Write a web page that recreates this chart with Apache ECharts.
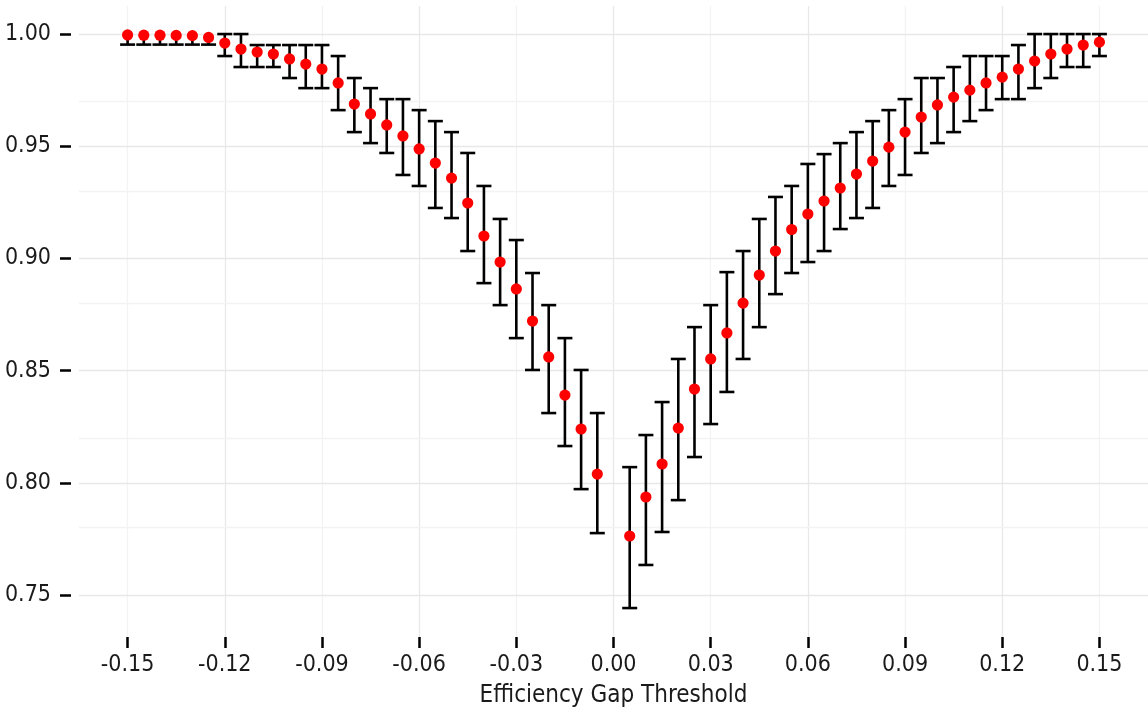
<!DOCTYPE html>
<html>
<head>
<meta charset="utf-8">
<script src="https://cdn.jsdelivr.net/npm/echarts@6/dist/echarts.min.js"></script>
<style>
html,body{margin:0;padding:0;background:#fff;}
#chart{width:1148px;height:715px;}
</style>
</head>
<body>
<div id="chart"></div>
<script>
const thresholds = [
  -0.150,-0.145,-0.140,-0.135,-0.130,-0.125,-0.120,-0.115,-0.110,-0.105,
  -0.100,-0.095,-0.090,-0.085,-0.080,-0.075,-0.070,-0.065,-0.060,-0.055,
  -0.050,-0.045,-0.040,-0.035,-0.030,-0.025,-0.020,-0.015,-0.010,-0.005,
   0.005, 0.010, 0.015, 0.020, 0.025, 0.030, 0.035, 0.040, 0.045, 0.050,
   0.055, 0.060, 0.065, 0.070, 0.075, 0.080, 0.085, 0.090, 0.095, 0.100,
   0.105, 0.110, 0.115, 0.120, 0.125, 0.130, 0.135, 0.140, 0.145, 0.150
];
const means = [
  0.9996,0.9995,0.9995,0.9994,0.9993,0.9985,0.9960,0.9933,0.9920,0.9911,
  0.9889,0.9866,0.9844,0.9782,0.9688,0.9644,0.9595,0.9546,0.9488,0.9425,
  0.9358,0.9247,0.9100,0.8984,0.8864,0.8721,0.8561,0.8391,0.8240,0.8039,
  0.7763,0.7937,0.8084,0.8244,0.8418,0.8552,0.8668,0.8801,0.8926,0.9033,
  0.9129,0.9198,0.9256,0.9314,0.9376,0.9434,0.9496,0.9563,0.9630,0.9684,
  0.9719,0.9750,0.9782,0.9808,0.9844,0.9880,0.9911,0.9933,0.9951,0.9964
];
const lows = [
  0.9953,0.9953,0.9953,0.9953,0.9953,0.9953,0.9902,0.9853,0.9853,0.9853,
  0.9804,0.9759,0.9759,0.9661,0.9563,0.9514,0.9470,0.9372,0.9323,0.9225,
  0.9180,0.9033,0.8890,0.8792,0.8645,0.8503,0.8311,0.8164,0.7972,0.7776,
  0.7442,0.7634,0.7781,0.7923,0.8115,0.8262,0.8405,0.8552,0.8694,0.8841,
  0.8935,0.8984,0.9033,0.9131,0.9180,0.9225,0.9323,0.9372,0.9470,0.9514,
  0.9563,0.9612,0.9661,0.9710,0.9710,0.9759,0.9804,0.9853,0.9853,0.9902
];
const highs = [
  0.9996,0.9995,0.9995,0.9994,0.9993,0.9985,1.0000,1.0000,0.9951,0.9951,
  0.9951,0.9951,0.9951,0.9902,0.9804,0.9759,0.9710,0.9710,0.9661,0.9612,
  0.9563,0.9470,0.9323,0.9176,0.9082,0.8935,0.8792,0.8645,0.8503,0.8311,
  0.8070,0.8213,0.8360,0.8552,0.8694,0.8792,0.8939,0.9033,0.9176,0.9274,
  0.9323,0.9421,0.9465,0.9514,0.9563,0.9612,0.9661,0.9710,0.9804,0.9804,
  0.9853,0.9902,0.9902,0.9902,0.9951,1.0000,1.0000,1.0000,1.0000,1.0000
];
const xTicks = [-0.15,-0.12,-0.09,-0.06,-0.03,0.00,0.03,0.06,0.09,0.12,0.15];
const yTicks = [0.75,0.80,0.85,0.90,0.95,1.00];
const yMinorGrid = [0.775,0.825,0.875,0.925,0.975];

const FONT = "'Liberation Sans Narrow','DejaVu Sans Condensed','Roboto',sans-serif";

const chart = echarts.init(document.getElementById('chart'), null, {renderer:'canvas'});

const errData = thresholds.map((t,i)=>[t, lows[i], highs[i], means[i]]);

const option = {
  animation: false,
  backgroundColor: '#ffffff',
  grid: {left: 79, right: -2, top: 6, bottom: 78, containLabel: false},
  xAxis: {
    type: 'value',
    min: -0.165, max: 0.165, interval: 0.015,
    axisLine: {show: false, onZero: false},
    axisTick: {show: true, customValues: xTicks, length: 11, lineStyle: {color: '#000', width: 2.5}},
    axisLabel: {customValues: xTicks, margin: 17, color: '#1a1a1a', fontSize: 23, fontFamily: FONT,
      formatter: v => (Math.abs(v) < 1e-9 ? '0.00' : v.toFixed(2))},
    splitLine: {show: true, lineStyle: {color: ['#f3f3f3','#e8e8e8'], width: 1.3}},
    name: 'Efficiency Gap Threshold',
    nameLocation: 'middle', nameGap: 47,
    nameTextStyle: {fontSize: 24, color: '#1a1a1a', fontFamily: FONT}
  },
  yAxis: {
    type: 'value',
    min: 0.7313, max: 1.0125,
    offset: 8,
    axisLine: {show: false, onZero: false},
    axisTick: {show: true, customValues: yTicks, length: 11, lineStyle: {color: '#000', width: 2.5}},
    axisLabel: {customValues: yTicks, margin: 20, color: '#1a1a1a', fontSize: 23, fontFamily: FONT,
      formatter: v => v.toFixed(2)},
    splitLine: {show: false}
  },
  series: [
    {
      type: 'line', data: [], z: 0, silent: true,
      markLine: {
        z: 0,
        silent: true, symbol: ['none','none'], label: {show: false}, animation: false,
        data: yTicks.map(v => ({yAxis: v, lineStyle: {color: '#e8e8e8', width: 1.3, type: 'solid'}}))
          .concat(yMinorGrid.map(v => ({yAxis: v, lineStyle: {color: '#f3f3f3', width: 1.3, type: 'solid'}})))
      }
    },
    {
      type: 'custom', z: 10, data: errData, silent: true,
      encode: {x: 0, y: [1, 2, 3]},
      renderItem: function (params, api) {
        const x = api.value(0), lo = api.value(1), hi = api.value(2), m = api.value(3);
        const a = api.coord([x, lo]), b = api.coord([x, hi]), c = api.coord([x, m]);
        const hw = 7.5;
        const st = {stroke: '#000', lineWidth: 2.6};
        const children = [
          {type: 'line', shape: {x1: a[0], y1: a[1], x2: b[0], y2: b[1]}, style: st},
          {type: 'line', shape: {x1: a[0]-hw, y1: a[1], x2: a[0]+hw, y2: a[1]}, style: st}
        ];
        if (hi > m) {
          children.push({type: 'line', shape: {x1: b[0]-hw, y1: b[1], x2: b[0]+hw, y2: b[1]}, style: st});
        }
        children.push({type: 'circle', shape: {cx: c[0], cy: c[1], r: 5.6}, style: {fill: '#ff0000', stroke: null}});
        return {type: 'group', children: children};
      }
    }
  ]
};
chart.setOption(option);
</script>
</body>
</html>
